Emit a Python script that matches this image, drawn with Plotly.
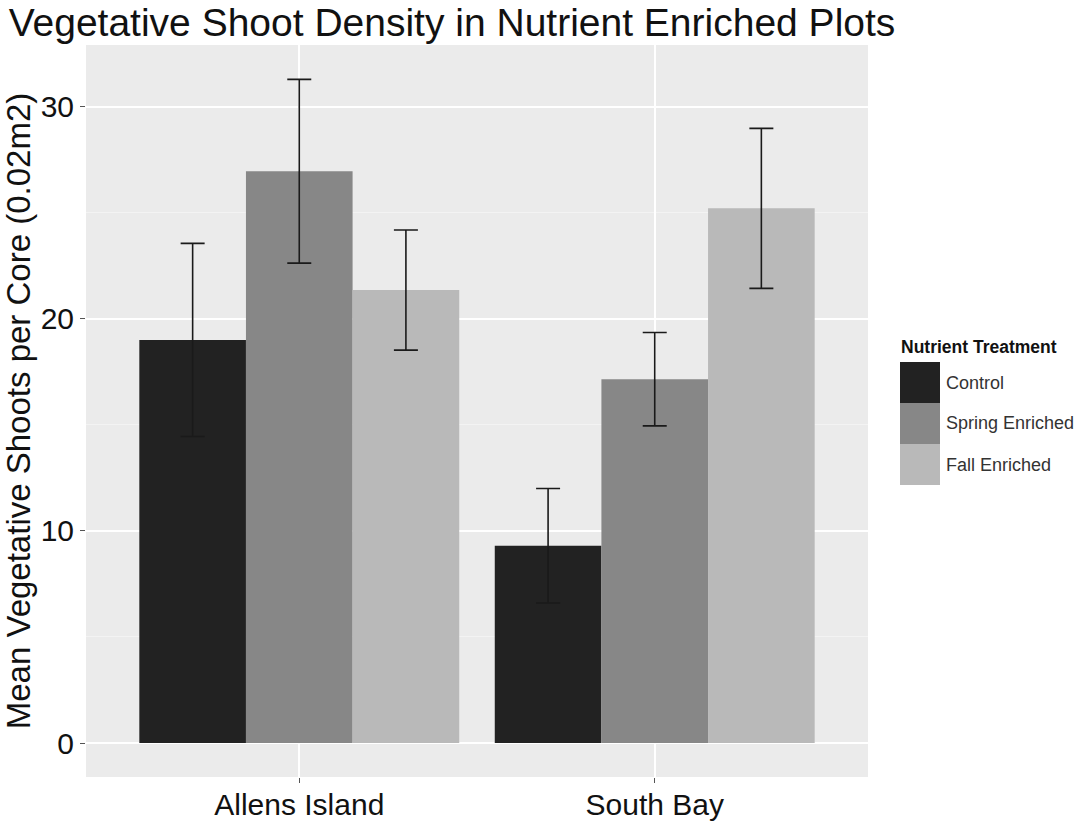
import plotly.graph_objects as go

sites = ["Allens Island", "South Bay"]
treatments = ["Control", "Spring Enriched", "Fall Enriched"]
means = {
    "Control": [19.0, 9.3],
    "Spring Enriched": [26.95, 17.15],
    "Fall Enriched": [21.35, 25.2],
}
errors = {
    "Control": [4.55, 2.7],
    "Spring Enriched": [4.33, 2.2],
    "Fall Enriched": [2.83, 3.77],
}
colors = {
    "Control": "#222222",
    "Spring Enriched": "#878787",
    "Fall Enriched": "#b9b9b9",
}
y_ticks = [0, 10, 20, 30]

W, H = 1083, 821
L, R, T, B = 86, 868, 45, 777
FONT = "Liberation Sans, Arial"

fig = go.Figure()
for t in treatments:
    fig.add_trace(go.Bar(
        name=t, x=sites, y=means[t], marker=dict(color=colors[t], line=dict(width=0)),
        error_y=dict(type="data", array=errors[t], visible=True, color="#1a1a1a", thickness=1.6, width=12),
        showlegend=False,
    ))

def px(x):
    return (x - L) / (R - L)

def py(y):
    return (B - y) / (B - T)

# manual ggplot-like legend
shapes = []
annotations = []
annotations.append(dict(x=px(899), y=py(347), xref="paper", yref="paper", text="<b>Nutrient Treatment</b>",
                        showarrow=False, xanchor="left", yanchor="middle",
                        font=dict(size=17.5, color="#111111", family=FONT)))
key_top = 362
key_h = 41
for i, t in enumerate(treatments):
    y0 = key_top + i * key_h
    shapes.append(dict(type="rect", xref="paper", yref="paper", x0=px(900), x1=px(940),
                       y0=py(y0 + key_h), y1=py(y0), fillcolor=colors[t], line=dict(width=0), layer="above"))
    annotations.append(dict(x=px(944), y=py(y0 + key_h / 2), xref="paper", yref="paper", text=t,
                            showarrow=False, xanchor="left", yanchor="middle",
                            font=dict(size=18, color="#333333", family=FONT)))

fig.update_layout(
    width=W, height=H,
    margin=dict(l=L, r=W - R, t=T, b=H - B),
    barmode="group", bargap=0.1, bargroupgap=0,
    paper_bgcolor="white", plot_bgcolor="#ebebeb",
    font=dict(family=FONT, color="#111111"),
    title=dict(text="Vegetative Shoot Density in Nutrient Enriched Plots", x=0.008, xanchor="left",
               yref="container", y=1 - 9 / H, yanchor="top", font=dict(size=39, color="#111111")),
    shapes=shapes, annotations=annotations,
    showlegend=False,
)
fig.update_xaxes(
    range=[-0.6, 1.6], showgrid=True, gridcolor="white", gridwidth=1.5, automargin=False,
    ticks="outside", ticklen=5, tickcolor="#555555", tickwidth=1, ticklabelstandoff=-4,
    tickfont=dict(size=30, color="#111111"), zeroline=False, showline=False,
)
fig.update_yaxes(
    range=[-1.6, 32.9], tickvals=y_ticks, showgrid=True, gridcolor="white", gridwidth=1.5, automargin=False,
    minor=dict(dtick=5, tick0=0, showgrid=True, gridcolor="#f3f3f3", gridwidth=1),
    ticks="outside", ticklen=5, tickcolor="#555555", tickwidth=1,
    tickfont=dict(size=30, color="#111111"), zeroline=False, showline=False,
    title=dict(text="Mean Vegetative Shoots per Core (0.02m2)", font=dict(size=33, color="#111111"), standoff=4),
)

fig.write_html("out.html")
